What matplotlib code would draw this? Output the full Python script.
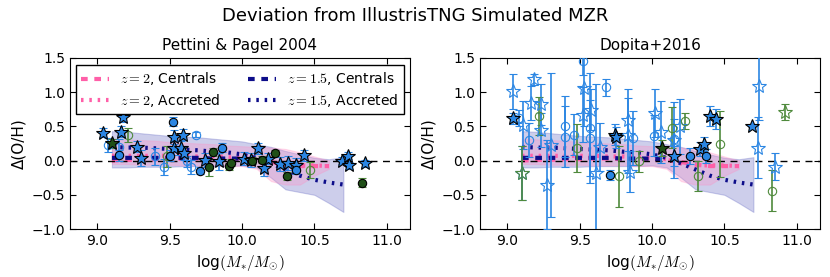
import numpy as np
import matplotlib
matplotlib.use('Agg')
import matplotlib.pyplot as plt

plt.rcParams['mathtext.fontset'] = 'cm'

# simulation bins (IllustrisTNG)
sim_mass = [9.1, 9.2, 9.3, 9.4, 9.5, 9.6, 9.7, 9.8, 9.9, 10.0, 10.1, 10.2, 10.3, 10.4, 10.5, 10.6, 10.7]
z2_cen = [0.00, 0.01, 0.01, 0.02, 0.02, 0.03, 0.03, 0.02, 0.02, 0.02, 0.01, -0.02, -0.06, -0.08, -0.08, -0.08, np.nan]
z2_acc = [0.07, 0.07, 0.07, 0.07, 0.07, 0.07, 0.06, 0.06, 0.05, 0.04, 0.02, -0.04, -0.07, -0.07, -0.07, -0.08, np.nan]
z2_hi = [0.32, 0.31, 0.30, 0.29, 0.27, 0.26, 0.25, 0.24, 0.22, 0.21, 0.20, 0.19, 0.17, 0.12, 0.06, 0.00, np.nan]
z2_lo = [-0.05, -0.05, -0.06, -0.06, -0.06, -0.07, -0.07, -0.07, -0.08, -0.08, -0.12, -0.30, -0.35, -0.35, -0.22, -0.12, np.nan]
z15_cen = [0.04, 0.04, 0.04, 0.04, 0.04, 0.04, 0.04, 0.03, 0.03, 0.03, 0.01, np.nan, np.nan, np.nan, np.nan, np.nan, np.nan]
z15_acc = [0.20, 0.19, 0.19, 0.18, 0.17, 0.16, 0.15, 0.13, 0.12, 0.09, 0.04, -0.04, -0.13, -0.22, -0.28, -0.32, -0.35]
z15_hi = [0.43, 0.42, 0.40, 0.38, 0.36, 0.35, 0.34, 0.32, 0.30, 0.28, 0.24, 0.20, 0.14, 0.09, 0.04, 0.02, 0.05]
z15_lo = [-0.10, -0.10, -0.09, -0.09, -0.09, -0.08, -0.08, -0.08, -0.08, -0.07, -0.10, -0.25, -0.42, -0.46, -0.50, -0.62, -0.75]

# Pettini & Pagel 2004
pp_star_x = [9.04, 9.18, 9.16, 9.27, 9.30, 9.53, 9.59, 9.53, 9.58, 9.60, 9.74, 9.84, 10.01,
             10.11, 10.06, 10.15, 10.26, 10.32, 10.37, 10.43, 10.69, 10.73, 10.74, 10.85, 10.18]
pp_star_y = [0.41, 0.63, 0.42, 0.20, 0.04, 0.34, 0.38, 0.18, 0.18, 0.11, 0.01, -0.01, 0.03,
             0.18, 0.01, -0.11, -0.05, -0.04, -0.06, 0.08, 0.00, 0.07, -0.07, -0.04, 0.03]
pp_star_e = [0.06, 0.07, 0.08, 0.08, 0.12, 0.10, 0.08, 0.10, 0.10, 0.10, 0.10, 0.12, 0.10,
             0.08, 0.10, 0.12, 0.10, 0.10, 0.10, 0.08, 0.05, 0.05, 0.05, 0.05, 0.08]
pp_circ_x = [9.52, 9.15, 9.50, 9.71, 9.86, 10.37]
pp_circ_y = [0.57, 0.08, 0.07, -0.15, 0.19, -0.14]
pp_circ_e = [0.06, 0.08, 0.08, 0.05, 0.06, 0.06]
pp_gcirc_x = [9.80, 9.77, 9.91, 9.92, 10.23, 10.14, 10.07, 10.31, 10.83]
pp_gcirc_y = [0.12, -0.10, -0.08, -0.03, 0.11, 0.01, 0.00, -0.22, -0.32]
pp_gcirc_e = [0.06, 0.12, 0.05, 0.05, 0.05, 0.05, 0.05, 0.06, 0.06]
pp_gstar_x = [9.10]
pp_gstar_y = [0.25]
pp_gstar_e = [0.06]
pp_ocirc_x = [9.07, 9.15, 9.68, 9.40, 9.46, 9.65, 9.62]
pp_ocirc_y = [0.23, 0.20, 0.38, 0.06, -0.09, -0.09, -0.01]
pp_ocirc_e = [0.10, 0.12, 0.04, 0.12, 0.12, 0.10, 0.08]
pp_ogcirc_x = [9.21, 9.48, 10.47]
pp_ogcirc_y = [0.37, 0.06, -0.14]
pp_ogcirc_e = [0.10, 0.15, 0.12]

# Dopita+2016
dp_star_x = [9.04, 9.74, 9.75, 10.40, 10.44, 10.69, 10.33, 10.36, 10.15]
dp_star_y = [0.62, 0.38, 0.34, 0.65, 0.61, 0.51, 0.17, 0.24, 0.07]
dp_star_e = [0.08, 0.15, 0.15, 0.15, 0.15, 0.02, 0.10, 0.10, 0.15]
dp_circ_x = [9.71, 10.26, 10.37]
dp_circ_y = [-0.21, 0.07, 0.07]
dp_circ_e = [0.07, 0.12, 0.10]
dp_gstar_x = [10.07]
dp_gstar_y = [0.18]
dp_gstar_e = [0.12]
dp_ostar_x = [9.04, 9.11, 9.18, 9.16, 9.23, 9.23, 9.30, 9.27, 9.10, 9.53, 9.52, 9.58, 9.61, 9.64,
              9.83, 9.83, 9.85, 10.02, 10.06, 10.19, 10.74, 10.73, 10.85, 10.15]
dp_ostar_y = [1.01, 0.52, 1.19, 0.84, 0.82, 0.45, 0.23, -0.35, -0.18, 1.06, 0.67, 0.74, -0.18, 0.20,
              0.59, 0.37, -0.16, 0.69, 0.42, 0.50, 1.09, 0.19, -0.09, 0.30]
dp_ostar_e = [0.25, 0.35, 0.08, 0.25, 0.30, 0.25, 1.05, 0.65, 0.40, 0.55, 0.40, 0.30, 1.30, 0.35,
              0.45, 0.55, 0.30, 0.35, 0.45, 0.40, 0.50, 0.45, 0.20, 0.55]
dp_ocirc_x = [9.08, 9.15, 9.40, 9.40, 9.46, 9.52, 9.57, 9.68, 9.57, 9.87, 10.01, 10.15]
dp_ocirc_y = [0.62, 0.30, 0.50, 0.35, 0.38, 1.45, 0.48, 1.07, 0.33, 0.33, 0.36, 0.31]
dp_ocirc_e = [0.12, 0.25, 0.45, 0.45, 0.30, 0.20, 0.80, 0.12, 0.55, 0.40, 0.30, 0.30]
dp_ogcirc_x = [9.22, 9.48, 9.77, 9.91, 10.14, 10.23, 10.32, 10.47, 10.83]
dp_ogcirc_y = [0.65, 0.18, -0.23, -0.01, 0.48, 0.58, -0.22, 0.24, -0.44]
dp_ogcirc_e = [0.28, 0.35, 0.45, 0.15, 0.30, 0.12, 0.22, 0.48, 0.30]
dp_ogstar_x = [10.92, 9.10]
dp_ogstar_y = [0.71, -0.18]
dp_ogstar_e = [0.12, 0.40]

blue = '#2b86e3'
dgreen = '#1f4f17'
ogreen = '#4f8a3c'
pink = '#ff5fa8'
navy = '#0d0d8a'


def draw_sim(ax):
    ax.fill_between(sim_mass, z15_lo, z15_hi, color='#5a5fbf', alpha=0.3, lw=0.8, zorder=1)
    ax.fill_between(sim_mass, z2_lo, z2_hi, color='#ff8fc4', alpha=0.3, lw=0.8, zorder=1)
    ax.plot(sim_mass, z2_cen, color=pink, lw=3, dashes=(1.6, 1.6), label=r'$z=2$, Centrals', zorder=2)
    ax.plot(sim_mass, z2_acc, color=pink, lw=3, dashes=(0.6, 1.4), label=r'$z=2$, Accreted', zorder=2)
    ax.plot(sim_mass, z15_cen, color=navy, lw=3, dashes=(1.6, 1.6), label=r'$z=1.5$, Centrals', zorder=2)
    ax.plot(sim_mass, z15_acc, color=navy, lw=3, dashes=(0.6, 1.4), label=r'$z=1.5$, Accreted', zorder=2)


def pts(ax, x, y, e, marker, face, edge, ecol, ms):
    ax.errorbar(x, y, yerr=e, fmt=marker, ms=ms, mfc=face, mec=edge, mew=0.8,
                ecolor=ecol, elinewidth=1.2, capsize=3, capthick=1.2, zorder=3)


fig = plt.figure(figsize=(8.3, 2.77), dpi=100)
ax1 = fig.add_axes([0.0843, 0.173, 0.4096, 0.618])
ax2 = fig.add_axes([0.5783, 0.173, 0.4096, 0.618])

for ax in (ax1, ax2):
    draw_sim(ax)
    ax.axhline(0, color='k', lw=1, dashes=(5, 4), zorder=2.5)

pts(ax1, pp_ocirc_x, pp_ocirc_y, pp_ocirc_e, 'o', 'none', blue, blue, 6)
pts(ax1, pp_ogcirc_x, pp_ogcirc_y, pp_ogcirc_e, 'o', 'none', ogreen, ogreen, 6)
pts(ax1, pp_star_x, pp_star_y, pp_star_e, '*', blue, 'k', blue, 10)
pts(ax1, pp_circ_x, pp_circ_y, pp_circ_e, 'o', blue, 'k', blue, 6)
pts(ax1, pp_gcirc_x, pp_gcirc_y, pp_gcirc_e, 'o', dgreen, 'k', ogreen, 6)
pts(ax1, pp_gstar_x, pp_gstar_y, pp_gstar_e, '*', dgreen, 'k', ogreen, 10)

pts(ax2, dp_ostar_x, dp_ostar_y, dp_ostar_e, '*', 'none', blue, blue, 10)
pts(ax2, dp_ocirc_x, dp_ocirc_y, dp_ocirc_e, 'o', 'none', blue, blue, 6)
pts(ax2, dp_ogcirc_x, dp_ogcirc_y, dp_ogcirc_e, 'o', 'none', ogreen, ogreen, 6)
pts(ax2, dp_ogstar_x, dp_ogstar_y, dp_ogstar_e, '*', 'none', ogreen, ogreen, 10)
pts(ax2, dp_star_x, dp_star_y, dp_star_e, '*', blue, 'k', blue, 10)
pts(ax2, dp_circ_x, dp_circ_y, dp_circ_e, 'o', blue, 'k', blue, 6)
pts(ax2, dp_gstar_x, dp_gstar_y, dp_gstar_e, '*', dgreen, 'k', ogreen, 10)

for ax, t in ((ax1, 'Pettini & Pagel 2004'), (ax2, 'Dopita+2016')):
    ax.set_xlim(8.81, 11.16)
    ax.set_ylim(-1.0, 1.5)
    ax.set_xticks([9.0, 9.5, 10.0, 10.5, 11.0])
    ax.set_yticks([-1.0, -0.5, 0.0, 0.5, 1.0, 1.5])
    ax.tick_params(direction='in', top=True, right=True, labelsize=10, length=4)
    ax.set_title(t, fontsize=11)
    ax.set_xlabel(r'log$(M_{*}/M_{\odot})$', fontsize=11)
    ax.set_ylabel('\u0394(O/H)', fontsize=11)

leg = ax1.legend(ncol=2, loc='upper center', fontsize=10, frameon=True, fancybox=False,
                 handlelength=2.0, columnspacing=2.0, borderaxespad=0.5, labelspacing=0.3)
leg.get_frame().set_edgecolor('k')
leg.get_frame().set_alpha(1)

fig.suptitle('Deviation from IllustrisTNG Simulated MZR', fontsize=13, y=0.975)
fig.savefig('out.png', dpi=100)
